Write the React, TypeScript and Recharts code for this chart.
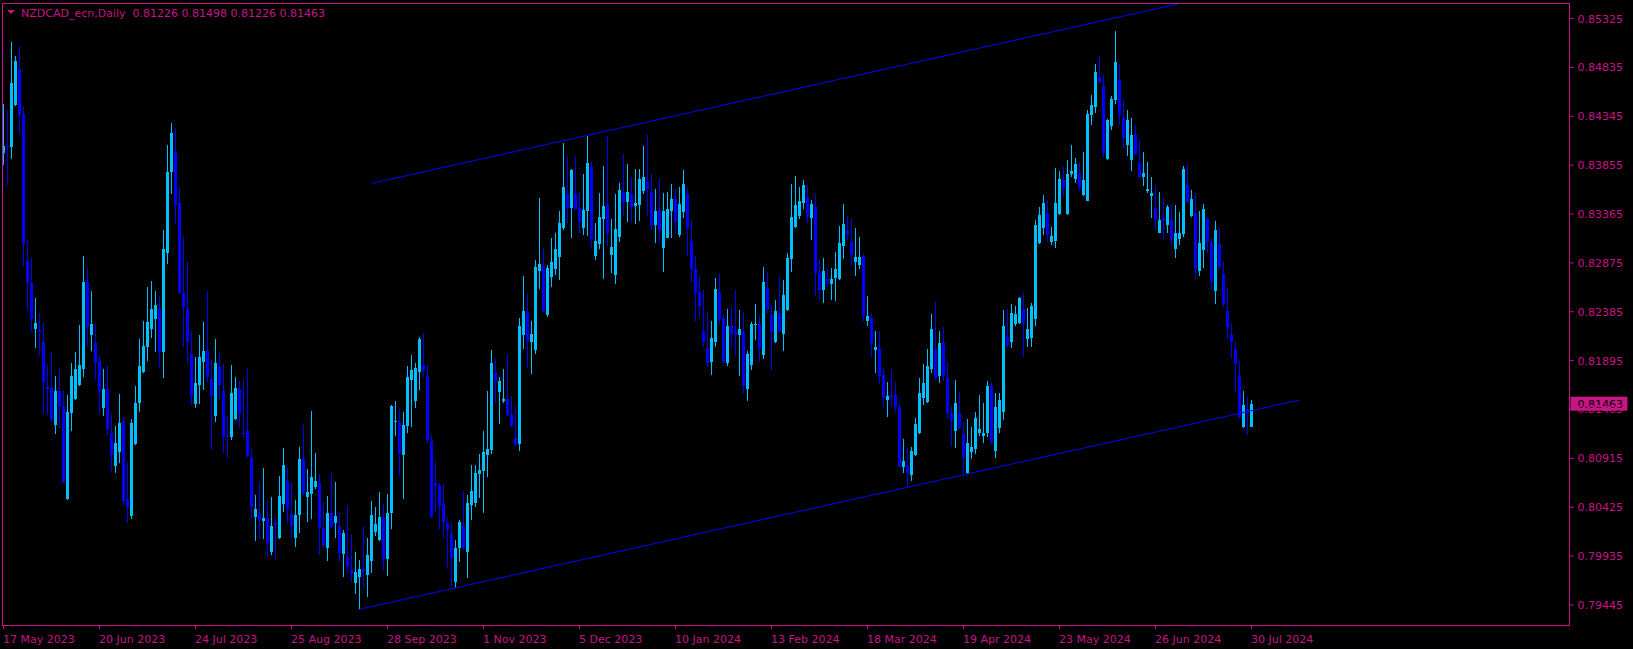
import React from 'react';
import { ComposedChart, Bar, XAxis, YAxis, ReferenceLine } from 'recharts';

const symbolTitle = 'NZDCAD_ecn,Daily';
const headerValues = ['0.81226', '0.81498', '0.81226', '0.81463'];
const lastPrice = 0.81463;

const dateTickIndex = [0, 24, 48, 72, 96, 120, 144, 168, 192, 216, 240, 264, 288, 312];
const dateTickLabels = ['17 May 2023', '20 Jun 2023', '24 Jul 2023', '25 Aug 2023', '28 Sep 2023', '1 Nov 2023', '5 Dec 2023', '10 Jan 2024', '13 Feb 2024', '18 Mar 2024', '19 Apr 2024', '23 May 2024', '26 Jun 2024', '30 Jul 2024'];
const priceTicks = [0.79445, 0.79935, 0.80425, 0.80915, 0.81405, 0.81895, 0.82385, 0.82875, 0.83365, 0.83855, 0.84345, 0.84835, 0.85325];
const priceDomain = [0.79244, 0.85481];
const slotCount = 392;

const openPrices = [
  0.83980,0.84050,0.84040,0.84458,0.84816,0.84368,0.82894,0.82670,0.82209,0.82202,
  0.82079,0.81628,0.81618,0.81250,0.81590,0.81440,0.80508,0.81373,0.81510,0.81651,
  0.81811,0.82686,0.82152,0.82069,0.81891,0.81423,0.81611,0.81166,0.80841,0.80982,
  0.81277,0.80505,0.80337,0.81056,0.81473,0.81784,0.82035,0.82209,0.82312,0.82413,
  0.81985,0.82971,0.83789,0.83990,0.83473,0.82576,0.82413,0.81961,0.81460,0.81651,
  0.81884,0.81995,0.81708,0.81343,0.81834,0.81590,0.81139,0.81132,0.81310,0.81608,
  0.81172,0.81189,0.80916,0.80330,0.80357,0.80290,0.80317,0.79979,0.80270,0.80113,
  0.80454,0.80688,0.80357,0.80113,0.80347,0.80909,0.80531,0.80555,0.80631,0.80671,
  0.80220,0.80019,0.80364,0.80270,0.80237,0.79956,0.79929,0.79796,0.79668,0.79728,
  0.79803,0.79746,0.79889,0.80180,0.80097,0.80317,0.79906,0.80370,0.81283,0.81280,
  0.80952,0.81243,0.81701,0.81490,0.81784,0.81851,0.81741,0.81089,0.80671,0.80641,
  0.80457,0.80264,0.80154,0.79678,0.80013,0.80237,0.79979,0.80447,0.80464,0.80758,
  0.80791,0.80949,0.80999,0.81774,0.81583,0.81490,0.81507,0.81350,0.81122,0.81059,
  0.82152,0.82386,0.82085,0.82002,0.82797,0.82844,0.82353,0.82737,0.82817,0.82937,
  0.83228,0.83566,0.83428,0.83566,0.83428,0.83228,0.83398,0.83834,0.82944,0.83064,
  0.83315,0.83456,0.82954,0.82754,0.83138,0.83589,0.83489,0.83566,0.83448,0.83456,
  0.83599,0.83689,0.83589,0.83255,0.83405,0.83027,0.83128,0.83398,0.83513,0.83155,
  0.83388,0.83566,0.83094,0.82811,0.82586,0.82192,0.82019,0.81884,0.82085,0.82580,
  0.82319,0.81874,0.82242,0.82192,0.82152,0.82185,0.81611,0.81851,0.82255,0.82262,
  0.81951,0.82620,0.82353,0.82085,0.82376,0.82162,0.82403,0.82911,0.83238,0.83348,
  0.83478,0.83533,0.83328,0.83432,0.82787,0.82603,0.82713,0.82663,0.82720,0.82713,
  0.83044,0.83195,0.83088,0.82887,0.82854,0.82944,0.82292,0.82319,0.82002,0.82025,
  0.81751,0.81500,0.81550,0.81550,0.81427,0.80831,0.80838,0.80748,0.80949,0.81172,
  0.81517,0.81483,0.81808,0.82009,0.81741,0.82075,0.81718,0.81367,0.81192,0.81367,
  0.81159,0.80765,0.80982,0.81006,0.81166,0.81139,0.81166,0.81644,0.80992,0.81222,
  0.81383,0.82129,0.82085,0.82259,0.82269,0.82410,0.82112,0.82125,0.82309,0.83077,
  0.83222,0.83372,0.83088,0.83098,0.83365,0.83706,0.83365,0.83766,0.83713,0.83779,
  0.83556,0.83499,0.84358,0.84435,0.84742,0.84652,0.83914,0.84248,0.84508,0.84709,
  0.84328,0.84057,0.83907,0.84157,0.83880,0.83739,0.83596,0.83549,0.83428,0.83178,
  0.83322,0.83255,0.83305,0.83014,0.83114,0.83165,0.83656,0.83348,0.83378,0.82797,
  0.83004,0.83312,0.83077,0.82596,0.83064,0.82764,0.82396,0.82152,0.82012,0.81741,
  0.81233,0.81410,0.81226,
];

const highPrices = [
  0.84468,0.84398,0.85087,0.84949,0.85037,0.84435,0.83094,0.82921,0.82520,0.82370,
  0.82269,0.81851,0.81985,0.81741,0.81808,0.81590,0.81550,0.81874,0.81985,0.82252,
  0.82944,0.82827,0.82593,0.82262,0.81944,0.81811,0.81841,0.81360,0.81240,0.81560,
  0.81327,0.80866,0.81310,0.81641,0.82112,0.82292,0.82630,0.82693,0.82593,0.82530,
  0.83205,0.84057,0.84281,0.84231,0.83633,0.83145,0.82881,0.82192,0.81928,0.82152,
  0.82285,0.82593,0.81901,0.82112,0.81968,0.81861,0.81340,0.81851,0.81734,0.81691,
  0.81701,0.81808,0.81006,0.80548,0.80678,0.80818,0.80488,0.80525,0.80324,0.80738,
  0.81019,0.80831,0.80678,0.80498,0.81029,0.81250,0.80805,0.81390,0.80969,0.80758,
  0.80464,0.80538,0.80768,0.80678,0.80377,0.80197,0.80437,0.80157,0.79976,0.79896,
  0.80224,0.80120,0.80490,0.80427,0.80578,0.80457,0.80558,0.81450,0.81490,0.81410,
  0.81380,0.81841,0.81951,0.81868,0.82129,0.82175,0.81851,0.81149,0.80882,0.80665,
  0.80658,0.80314,0.80257,0.80096,0.80297,0.80588,0.80548,0.80848,0.80848,0.80959,
  0.81189,0.81590,0.82002,0.81911,0.81734,0.81811,0.81948,0.81540,0.81440,0.82319,
  0.82744,0.82563,0.82292,0.82904,0.83523,0.83024,0.82854,0.83128,0.83172,0.83395,
  0.84080,0.83934,0.83816,0.83947,0.83589,0.83766,0.84150,0.83890,0.83278,0.83579,
  0.83846,0.84147,0.83312,0.83566,0.83673,0.83967,0.83867,0.83723,0.83813,0.83813,
  0.84047,0.84157,0.83766,0.83613,0.83713,0.83573,0.83589,0.83666,0.83613,0.83633,
  0.83806,0.83623,0.83305,0.82944,0.82744,0.82603,0.82383,0.82292,0.82724,0.82764,
  0.82353,0.82410,0.82430,0.82603,0.82403,0.82386,0.81991,0.82285,0.82463,0.82343,
  0.82837,0.82781,0.82453,0.82503,0.82731,0.82703,0.82971,0.83666,0.83746,0.83633,
  0.83706,0.83656,0.83506,0.83566,0.82904,0.82927,0.82827,0.82827,0.82987,0.83245,
  0.83466,0.83345,0.83312,0.83222,0.83132,0.82964,0.82543,0.82370,0.82192,0.82179,
  0.81818,0.81684,0.81801,0.81678,0.81467,0.81106,0.81016,0.81026,0.81323,0.81718,
  0.81861,0.82009,0.82363,0.82486,0.82192,0.82229,0.81884,0.81433,0.81701,0.81583,
  0.81283,0.81310,0.81233,0.81377,0.81550,0.81473,0.81691,0.81684,0.81573,0.81567,
  0.82403,0.82410,0.82463,0.82443,0.82533,0.82586,0.82420,0.82470,0.83305,0.83438,
  0.83556,0.83506,0.83238,0.83824,0.83796,0.83834,0.83907,0.84057,0.83930,0.83874,
  0.83990,0.84408,0.84558,0.84869,0.84949,0.84759,0.84315,0.84548,0.85200,0.84859,
  0.84508,0.84408,0.84328,0.84258,0.84107,0.83990,0.83890,0.83739,0.83646,0.83589,
  0.83529,0.83456,0.83456,0.83456,0.83388,0.83846,0.83856,0.83606,0.83573,0.83398,
  0.83466,0.83338,0.83114,0.83298,0.83228,0.82887,0.82626,0.82269,0.82092,0.81894,
  0.81593,0.81533,0.81498,
];

const lowPrices = [
  0.83857,0.83656,0.83917,0.84448,0.84167,0.82847,0.82403,0.82185,0.82025,0.81944,
  0.81367,0.81350,0.81283,0.81159,0.81216,0.80671,0.80500,0.81189,0.81500,0.81641,
  0.81734,0.82045,0.81991,0.81701,0.81367,0.81343,0.81149,0.80791,0.80771,0.80866,
  0.80447,0.80267,0.80304,0.81049,0.81377,0.81768,0.81894,0.82119,0.81978,0.81834,
  0.81718,0.82861,0.83563,0.83272,0.82570,0.82035,0.81874,0.81450,0.81417,0.81460,
  0.81601,0.81684,0.81009,0.81283,0.81510,0.80966,0.80932,0.81099,0.81300,0.81222,
  0.81132,0.80932,0.80304,0.80089,0.80103,0.80103,0.79923,0.79946,0.79903,0.80103,
  0.80380,0.80264,0.80130,0.80029,0.80164,0.80548,0.80280,0.80304,0.80611,0.79946,
  0.80013,0.79889,0.80220,0.80120,0.79889,0.79722,0.79763,0.79678,0.79552,0.79402,
  0.79618,0.79528,0.79769,0.80137,0.80090,0.79796,0.79739,0.80207,0.81142,0.80741,
  0.80508,0.81172,0.81233,0.81423,0.81601,0.81728,0.81072,0.80320,0.80380,0.80204,
  0.80130,0.79829,0.79638,0.79618,0.79879,0.80003,0.79718,0.80297,0.80430,0.80521,
  0.80364,0.80731,0.80956,0.81473,0.81256,0.81473,0.81340,0.81233,0.81039,0.80992,
  0.82012,0.81834,0.81761,0.81958,0.82613,0.82383,0.82335,0.82636,0.82751,0.82703,
  0.83205,0.83278,0.83128,0.83410,0.83172,0.83155,0.83148,0.83037,0.82904,0.83014,
  0.82713,0.83044,0.82771,0.82663,0.83088,0.83348,0.83288,0.83288,0.83265,0.83298,
  0.83563,0.83355,0.83215,0.83077,0.83077,0.82787,0.83122,0.83122,0.83172,0.83132,
  0.83328,0.82947,0.82686,0.82295,0.82329,0.82035,0.81834,0.81751,0.82035,0.82262,
  0.81868,0.81844,0.82035,0.81951,0.81741,0.81567,0.81493,0.81801,0.82102,0.81884,
  0.81908,0.82370,0.81801,0.82072,0.82185,0.81995,0.82393,0.82787,0.83222,0.83315,
  0.83412,0.83278,0.83104,0.82543,0.82510,0.82476,0.82636,0.82503,0.82496,0.82703,
  0.82914,0.83104,0.82854,0.82744,0.82811,0.82295,0.82245,0.81928,0.81768,0.81658,
  0.81433,0.81333,0.81440,0.81383,0.80828,0.80771,0.80638,0.80691,0.80939,0.81164,
  0.81450,0.81475,0.81768,0.81694,0.81674,0.81694,0.81310,0.81039,0.81022,0.81206,
  0.80765,0.80758,0.80906,0.80959,0.81142,0.81066,0.81132,0.81049,0.80922,0.81172,
  0.81300,0.82035,0.82025,0.82242,0.82262,0.81934,0.82035,0.82035,0.82245,0.83069,
  0.83155,0.83088,0.83054,0.83021,0.83355,0.83539,0.83355,0.83739,0.83679,0.83599,
  0.83546,0.83491,0.84258,0.84381,0.84676,0.83940,0.83907,0.84208,0.84468,0.84258,
  0.84027,0.83947,0.83799,0.83957,0.83731,0.83649,0.83579,0.83322,0.83205,0.83172,
  0.83112,0.83172,0.83054,0.82921,0.83054,0.83138,0.83473,0.83340,0.82713,0.82747,
  0.82827,0.82977,0.82616,0.82463,0.82824,0.82436,0.82112,0.81924,0.81577,0.81323,
  0.81224,0.81149,0.81226,
];

const closePrices = [
  0.84047,0.84040,0.84676,0.84899,0.84358,0.83071,0.82670,0.82309,0.82269,0.82185,
  0.81684,0.81611,0.81310,0.81590,0.81443,0.80681,0.81377,0.81741,0.81811,0.81851,
  0.82686,0.82229,0.82262,0.81868,0.81590,0.81611,0.81209,0.80949,0.81066,0.81267,
  0.80490,0.80424,0.81273,0.81467,0.81841,0.82042,0.82279,0.82413,0.82453,0.81978,
  0.83014,0.83789,0.84180,0.83456,0.82576,0.82430,0.82085,0.81543,0.81674,0.81928,
  0.81995,0.81734,0.81540,0.81874,0.81651,0.81132,0.81126,0.81567,0.81618,0.81367,
  0.81156,0.80942,0.80430,0.80407,0.80297,0.80317,0.80063,0.80237,0.80244,0.80538,
  0.80848,0.80407,0.80237,0.80347,0.80909,0.80565,0.80581,0.80725,0.80688,0.80230,
  0.80046,0.80364,0.80230,0.80337,0.79969,0.80164,0.79829,0.79756,0.79776,0.79803,
  0.79776,0.79946,0.80347,0.80257,0.80324,0.79906,0.80364,0.81440,0.81287,0.80959,
  0.81250,0.81728,0.81801,0.81818,0.82109,0.81801,0.81099,0.80324,0.80638,0.80440,
  0.80280,0.80204,0.79913,0.80013,0.80274,0.80019,0.80464,0.80588,0.80765,0.80798,
  0.80976,0.81006,0.81868,0.81691,0.81691,0.81510,0.81350,0.81240,0.81049,0.82242,
  0.82393,0.82095,0.82162,0.82834,0.82864,0.82393,0.82827,0.82884,0.83017,0.83278,
  0.83639,0.83428,0.83806,0.83420,0.83282,0.83405,0.83874,0.83112,0.83098,0.83332,
  0.83445,0.83178,0.83037,0.83215,0.83606,0.83489,0.83583,0.83438,0.83473,0.83713,
  0.83733,0.83616,0.83248,0.83395,0.83205,0.83395,0.83412,0.83516,0.83288,0.83466,
  0.83666,0.83222,0.82811,0.82570,0.82446,0.82085,0.81874,0.82119,0.82610,0.82309,
  0.81884,0.82242,0.82175,0.82152,0.82212,0.81644,0.81961,0.82262,0.82262,0.82009,
  0.82680,0.82413,0.82185,0.82393,0.82192,0.82553,0.82927,0.83338,0.83456,0.83496,
  0.83656,0.83338,0.83466,0.82771,0.82603,0.82794,0.82670,0.82713,0.82814,0.83071,
  0.83262,0.83155,0.82954,0.82931,0.82931,0.82346,0.82343,0.82075,0.82035,0.81744,
  0.81523,0.81540,0.81527,0.81427,0.80831,0.80889,0.80765,0.80989,0.81260,0.81567,
  0.81674,0.81841,0.82212,0.81718,0.82075,0.81741,0.81373,0.81293,0.81467,0.81216,
  0.80932,0.81072,0.81032,0.81323,0.81209,0.81166,0.81644,0.81082,0.81433,0.81500,
  0.82242,0.82052,0.82376,0.82363,0.82526,0.82269,0.82209,0.82443,0.83255,0.83355,
  0.83478,0.83155,0.83145,0.83478,0.83719,0.83623,0.83766,0.83799,0.83867,0.83623,
  0.83706,0.84368,0.84458,0.84792,0.84692,0.83974,0.84308,0.84518,0.84889,0.84358,
  0.84127,0.84308,0.84157,0.83967,0.83739,0.83773,0.83619,0.83579,0.83305,0.83305,
  0.83295,0.83438,0.83112,0.83178,0.83178,0.83816,0.83482,0.83516,0.82811,0.83077,
  0.83415,0.83088,0.82696,0.83205,0.82831,0.82463,0.82229,0.82085,0.81858,0.81333,
  0.81450,0.81367,0.81463,
];

const lowerChannel = [{ i: 89, p: 0.79402 }, { i: 324, p: 0.81500 }];
const upperChannel = [{ i: 92, p: 0.83672 }, { i: 324, p: 0.85743 }];

const UP = '#00BFFF';
const DOWN = '#0000FF';
const AXIS = '#C71585';
const FONT = 'DejaVu Sans';

const rows = Array.from({ length: slotCount }, (_, i) => ({
  i,
  o: i < openPrices.length ? openPrices[i] : null,
  h: i < highPrices.length ? highPrices[i] : null,
  l: i < lowPrices.length ? lowPrices[i] : null,
  c: i < closePrices.length ? closePrices[i] : null,
}));

const Candle = (props: any) => {
  const { x, y, width, height, payload } = props;
  if (!payload || payload.h == null) return null;
  const { o, h, l, c } = payload;
  const top = Math.min(y, y + height);
  const span = Math.abs(height);
  const ratio = h - l > 0 ? span / (h - l) : 0;
  const cx = x + width / 2;
  const bodyTop = top + (h - Math.max(o, c)) * ratio;
  const bodyBot = top + (h - Math.min(o, c)) * ratio;
  const color = c >= o ? UP : DOWN;
  return (
    <g shapeRendering="crispEdges">
      <rect x={cx - 0.5} y={top} width={1} height={Math.max(span, 1)} fill={color} />
      <rect x={cx - 1.5} y={bodyTop} width={3} height={Math.max(bodyBot - bodyTop, 1)} fill={color} />
    </g>
  );
};

const DateTick = (props: any) => {
  const { x, y, payload } = props;
  const k = dateTickIndex.indexOf(payload.value);
  if (k < 0) return null;
  return (
    <text x={x - 0.5} y={y + 12} fill={AXIS} fontSize={11} fontFamily={FONT} textAnchor="start">
      {dateTickLabels[k]}
    </text>
  );
};

const PriceTick = (props: any) => {
  const { x, y, payload } = props;
  return (
    <text x={x} y={y + 4} fill={AXIS} fontSize={11} fontFamily={FONT} textAnchor="start">
      {Number(payload.value).toFixed(5)}
    </text>
  );
};

const PriceBox = (props: any) => {
  const vb = props.viewBox || {};
  const x = vb.x + vb.width;
  const y = vb.y;
  return (
    <g>
      <rect x={x + 1} y={y - 7} width={57} height={14} fill={AXIS} />
      <text x={x + 8} y={y + 4} fill="#000000" fontSize={11} fontFamily={FONT} textAnchor="start">
        {lastPrice.toFixed(5)}
      </text>
    </g>
  );
};

export default function App() {
  return (
    <div style={{ position: 'relative', width: 1633, height: 649, background: '#000' }}>
      <style>{`body{margin:0;background:#000;}`}</style>
      <ComposedChart
        width={1633}
        height={649}
        data={rows}
        margin={{ top: 3, right: 0, bottom: 0, left: 1.5 }}
        style={{ background: '#000' }}
      >
        <XAxis
          dataKey="i"
          type="category"
          ticks={dateTickIndex}
          interval={0}
          height={24}
          axisLine={false}
          tickLine={{ stroke: AXIS }}
          tickSize={4}
          tick={<DateTick />}
        />
        <YAxis
          orientation="right"
          type="number"
          domain={priceDomain}
          allowDataOverflow
          ticks={priceTicks}
          interval={0}
          width={63.5}
          axisLine={false}
          tickLine={{ stroke: AXIS }}
          tickSize={4}
          tickMargin={4}
          tick={<PriceTick />}
        />
        <Bar
          dataKey={(d: any) => (d.h == null ? null : [d.l, d.h])}
          barSize={4}
          isAnimationActive={false}
          shape={<Candle />}
        />
        <ReferenceLine
          segment={[{ x: lowerChannel[0].i, y: lowerChannel[0].p }, { x: lowerChannel[1].i, y: lowerChannel[1].p }]}
          stroke="#0000FF"
          strokeWidth={1}
          ifOverflow="hidden"
        />
        <ReferenceLine
          segment={[{ x: upperChannel[0].i, y: upperChannel[0].p }, { x: upperChannel[1].i, y: upperChannel[1].p }]}
          stroke="#0000FF"
          strokeWidth={1}
          ifOverflow="hidden"
        />
        <ReferenceLine y={lastPrice} stroke="none" label={<PriceBox />} />
      </ComposedChart>
      <div
        style={{
          position: 'absolute', left: 2, top: 3, width: 1568, height: 623,
          border: `1px solid ${AXIS}`, boxSizing: 'border-box', pointerEvents: 'none',
        }}
      />
      <svg style={{ position: 'absolute', left: 0, top: 0 }} width={400} height={24}>
        <polygon points="7,10 15,10 11,14" fill={AXIS} />
        <text x={21} y={17} fill={AXIS} fontSize={11} fontFamily={FONT} xmlSpace="preserve">
          {symbolTitle + '  ' + headerValues.join(' ')}
        </text>
      </svg>
    </div>
  );
}
